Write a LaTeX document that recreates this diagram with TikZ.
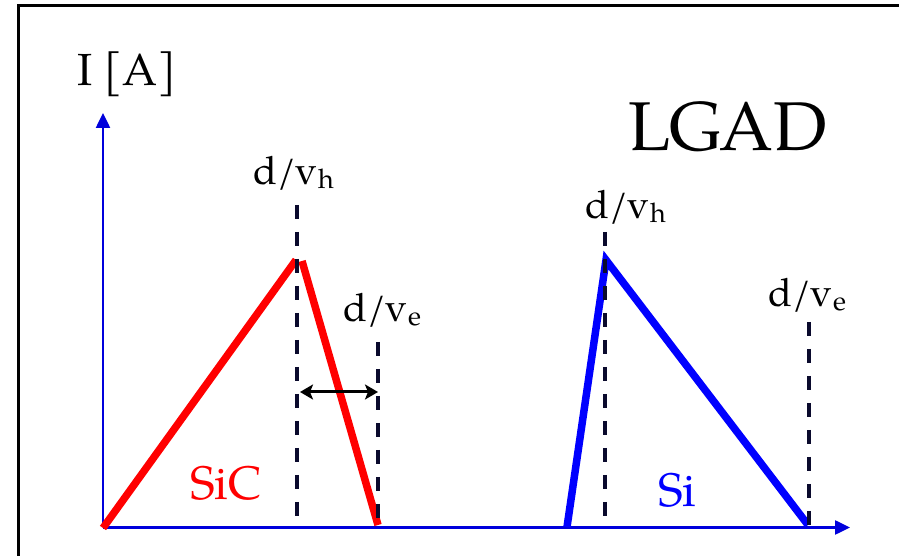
\documentclass[tikz,border=0pt]{standalone}
\usepackage{fontspec}
\setmainfont{TeX Gyre Pagella}
\usetikzlibrary{arrows.meta}
\definecolor{axisblue}{RGB}{0,0,220}
\definecolor{dashnavy}{RGB}{10,10,45}
\newcommand{\lsub}[1]{\raisebox{-0.1em}{\fontsize{27}{30}\selectfont #1}}
\begin{document}
\begin{tikzpicture}[x=1pt,y=1pt,
  lbl/.style={anchor=base west, inner sep=0pt, font=\fontsize{39}{42}\selectfont},
  big/.style={anchor=base west, inner sep=0pt, font=\fontsize{47}{50}\selectfont},
  axis/.style={draw=axisblue, line width=2.5pt, -{Triangle[length=15pt,width=14pt]}},
  curve/.style={line width=7.5pt},
  guide/.style={draw=dashnavy, line width=3.5pt, dash pattern=on 14pt off 13pt},
  span/.style={draw=black, line width=3pt, {Stealth[length=13pt,width=15pt,inset=3pt]}-{Stealth[length=13pt,width=15pt,inset=3pt]}}
]
\useasboundingbox (0,0) rectangle (899,556);
% frame
\coordinate (fb) at (18.7,-2);
\coordinate (ftl) at (18.7,550.3);
\coordinate (ftr) at (905,550.3);
\draw[line width=3pt] (fb) -- (ftl) -- (ftr);
% axes
\coordinate (O) at (103,28.5);
\coordinate (ytip) at (103,443);
\coordinate (xtip) at (850,28.5);
\draw[axis] (O) -- (ytip);
\draw[axis] (O) -- (xtip);
% SiC
\coordinate (r0) at (103,28);
\coordinate (r1) at (296,296);
\coordinate (r2) at (302,295);
\coordinate (r3) at (378,31);
\draw[curve, red] (r0) -- (r1);
\draw[curve, red] (r2) -- (r3);
% Si
\coordinate (b0) at (567,29);
\coordinate (b1) at (606,296);
\coordinate (b2) at (808,31);
\draw[curve, blue] (b0) -- (b1) -- (b2);
% guides
\coordinate (g1t) at (297,351); \coordinate (g1b) at (297,29);
\coordinate (g2t) at (378,214); \coordinate (g2b) at (378,29);
\coordinate (g3t) at (605,324); \coordinate (g3b) at (605,29);
\coordinate (g4t) at (809,234); \coordinate (g4b) at (809,29);
\draw[guide] (g1t) -- (g1b);
\draw[guide] (g2t) -- (g2b);
\draw[guide] (g3t) -- (g3b);
\draw[guide] (g4t) -- (g4b);
% span arrow
\coordinate (sa) at (300,164);
\coordinate (sb) at (378,164);
\draw[span] (sa) -- (sb);
% labels
\node[anchor=base west, inner sep=0pt, font=\fontsize{45}{48}\selectfont] (ylab) at (77,470) {I [A]};
\node[anchor=base west, inner sep=0pt, font=\fontsize{69}{72}\selectfont] (title) at (628,405) {LGAD};
\node[lbl] (lh1) at (253,371) {d/v\lsub{h}};
\node[lbl] (le1) at (343,234) {d/v\lsub{e}};
\node[lbl] (lh2) at (585,337) {d/v\lsub{h}};
\node[lbl] (le2) at (768,249) {d/v\lsub{e}};
\node[big, text=red] (sic) at (190,56) {SiC};
\node[big, text=blue] (si) at (658,49) {Si};
\end{tikzpicture}
\end{document}
